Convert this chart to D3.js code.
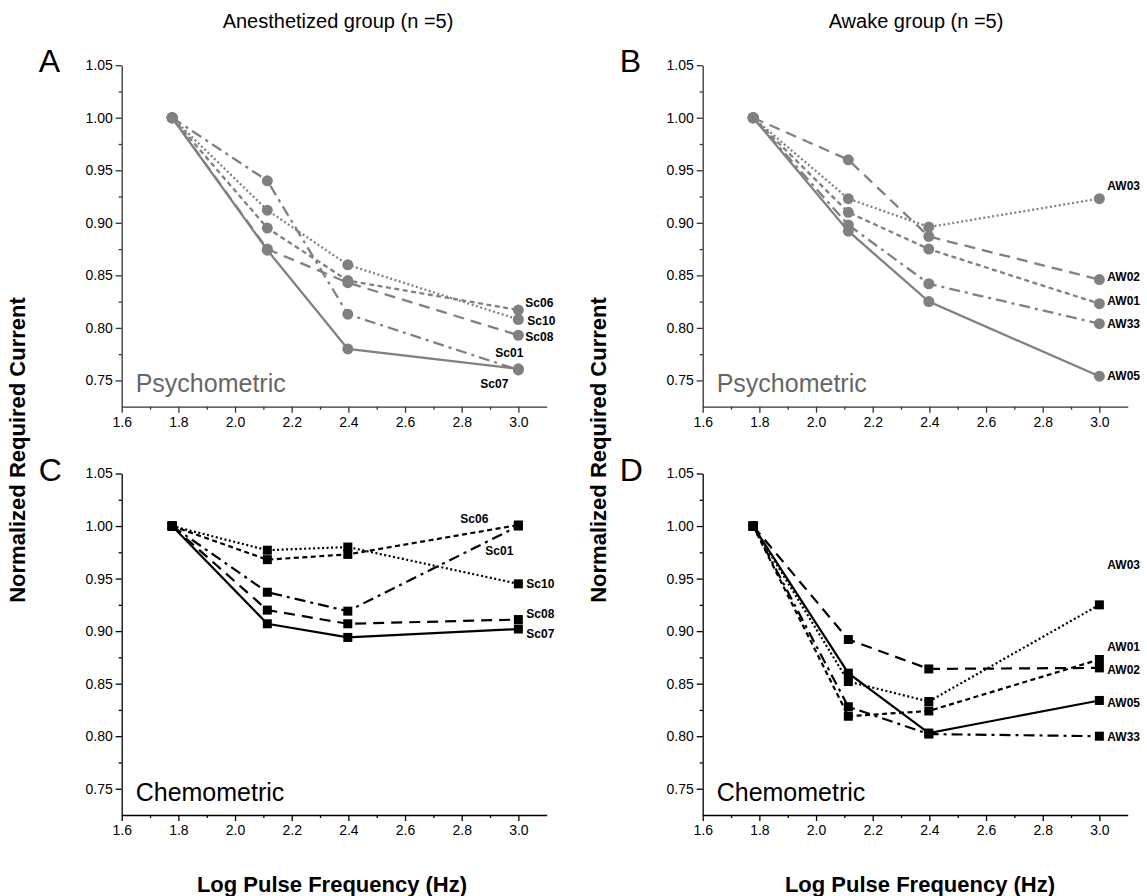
<!DOCTYPE html>
<html lang="en">
<head>
<meta charset="UTF-8">
<title>Normalized required current</title>
<script src="https://d3js.org/d3.v7.min.js"></script>
<style>
  body { margin: 0; background: #fff; }
  text { font-family: "Liberation Sans", Arial, sans-serif; }
  .lbl { font-size: 12px; font-weight: bold; }
  .ttl { font-size: 22px; font-weight: bold; }
</style>
</head>
<body>
<svg id="svg" width="1147" height="896"></svg>
<script>
// log10 of 60, 130, 250, 1000 Hz
var logFreq = [1.778, 2.114, 2.398, 3.0]

var xTicks = [1.6, 1.8, 2.0, 2.2, 2.4, 2.6, 2.8, 3.0]
var yTicks = [0.75, 0.80, 0.85, 0.90, 0.95, 1.00, 1.05]

// series order: solid, dash-dot, short dash, dotted, long dash
var anesIds = ['Sc07', 'Sc01', 'Sc06', 'Sc10', 'Sc08']
var awakeIds = ['AW05', 'AW33', 'AW01', 'AW03', 'AW02']

var psychAnes = [
  [1, 0.874, 0.780, 0.761],
  [1, 0.940, 0.813, 0.760],
  [1, 0.895, 0.845, 0.817],
  [1, 0.912, 0.860, 0.808],
  [1, 0.875, 0.843, 0.793]
]
var psychAwake = [
  [1, 0.892, 0.825, 0.754],
  [1, 0.898, 0.842, 0.804],
  [1, 0.910, 0.875, 0.823],
  [1, 0.923, 0.896, 0.923],
  [1, 0.960, 0.887, 0.846]
]
var chemoAnes = [
  [1, 0.907, 0.894, 0.902],
  [1, 0.937, 0.919, 1.000],
  [1, 0.968, 0.973, 1.001],
  [1, 0.977, 0.980, 0.945],
  [1, 0.920, 0.907, 0.911]
]
var chemoAwake = [
  [1, 0.860, 0.803, 0.834],
  [1, 0.828, 0.802, 0.800],
  [1, 0.819, 0.824, 0.873],
  [1, 0.852, 0.833, 0.925],
  [1, 0.892, 0.864, 0.865]
]

var dashes = [null, '11,5,3,5', '5,3.5', '2,2.5', '11,7']

var svg = d3.select('#svg')

function drawPanel(cfg) {
  var x = d3.scaleLinear().domain([1.6, 3.1]).range([cfg.left, cfg.left + 425])
  var y = d3.scaleLinear().domain([0.725, 1.05]).range([cfg.top + 341.5, cfg.top])
  var g = svg.append('g')

  // axes
  g.append('g').attr('transform', 'translate(' + cfg.left + ',0)')
    .call(d3.axisLeft(y).tickValues(yTicks).tickSize(6).tickSizeOuter(0).tickPadding(3)
      .tickFormat(d3.format('.2f')))
  var yMinor = g.append('g').attr('transform', 'translate(' + cfg.left + ',0)')
    .call(d3.axisLeft(y).tickValues(d3.range(0.775, 1.04, 0.05)).tickSize(3).tickFormat(''))
  yMinor.select('.domain').remove()
  g.append('g').attr('transform', 'translate(0,' + y(0.725) + ')')
    .call(d3.axisBottom(x).tickValues(xTicks).tickSize(6).tickSizeOuter(0).tickPadding(4)
      .tickFormat(d3.format('.1f')))
  var xMinor = g.append('g').attr('transform', 'translate(0,' + y(0.725) + ')')
    .call(d3.axisBottom(x).tickValues(d3.range(1.7, 3.0, 0.2)).tickSize(3).tickFormat(''))
  xMinor.select('.domain').remove()
  g.selectAll('.domain, .tick line').attr('stroke', cfg.axisColor).attr('stroke-width', 1.3)
  g.selectAll('.tick text').attr('font-family', '"Liberation Sans", Arial, sans-serif')
    .attr('font-size', 14).attr('fill', '#000')

  var line = d3.line().x(function (d, i) { return x(logFreq[i]) }).y(function (d) { return y(d) })

  cfg.data.forEach(function (s, k) {
    g.append('path').datum(s)
      .attr('d', line)
      .attr('fill', 'none')
      .attr('stroke', cfg.color)
      .attr('stroke-width', cfg.lw)
      .attr('stroke-dasharray', dashes[k])
  })
  cfg.data.forEach(function (s, k) {
    if (cfg.marker === 'circle') {
      g.selectAll(null).data(s).enter().append('circle')
        .attr('cx', function (d, i) { return x(logFreq[i]) })
        .attr('cy', function (d) { return y(d) })
        .attr('r', 5.5)
        .attr('fill', cfg.color)
    } else {
      g.selectAll(null).data(s).enter().append('rect')
        .attr('x', function (d, i) { return x(logFreq[i]) - 4.5 })
        .attr('y', function (d) { return y(d) - 4.5 })
        .attr('width', 9).attr('height', 9)
        .attr('fill', cfg.color)
    }
    var off = cfg.offsets[k]
    g.append('text').attr('class', 'lbl')
      .attr('x', x(logFreq[3]) + off[0])
      .attr('y', y(s[3]) + off[1])
      .attr('dy', '0.35em')
      .text(cfg.ids[k])
  })

  g.append('text')
    .attr('x', cfg.left + 14).attr('y', cfg.top + 327)
    .attr('font-size', 25).attr('fill', cfg.textColor)
    .text(cfg.name)
  g.append('text')
    .attr('x', cfg.left - 83).attr('y', cfg.top + 7)
    .attr('font-size', 32)
    .text(cfg.letter)
}

drawPanel({ letter: 'A', left: 121.7, top: 65.2, data: psychAnes, ids: anesIds, lw: 2.3,
  color: '#808080', axisColor: '#333', textColor: '#666', marker: 'circle', name: 'Psychometric',
  offsets: [[-38, 15], [-23, -17], [7, -7], [9, 1], [7, 2]] })
drawPanel({ letter: 'B', left: 702.7, top: 65.2, data: psychAwake, ids: awakeIds, lw: 2.3,
  color: '#808080', axisColor: '#333', textColor: '#666', marker: 'circle', name: 'Psychometric',
  offsets: [[8, 0], [8, 0], [8, -3], [8, -13], [8, -3]] })
drawPanel({ letter: 'C', left: 121.7, top: 473.5, data: chemoAnes, ids: anesIds, lw: 2.2,
  color: '#000', axisColor: '#000', textColor: '#000', marker: 'square', name: 'Chemometric',
  offsets: [[8, 5], [-33, 25], [-58, -6], [8, 0], [8, -6]] })
drawPanel({ letter: 'D', left: 702.7, top: 473.5, data: chemoAwake, ids: awakeIds, lw: 2.2,
  color: '#000', axisColor: '#000', textColor: '#000', marker: 'square', name: 'Chemometric',
  offsets: [[8, 2], [8, 1], [8, -13], [8, -40], [8, 2]] })

// group titles and axis titles
svg.append('text').attr('x', 338).attr('y', 28).attr('text-anchor', 'middle')
  .attr('font-size', 20).text('Anesthetized group (n =5)')
svg.append('text').attr('x', 916).attr('y', 28).attr('text-anchor', 'middle')
  .attr('font-size', 20).text('Awake group (n =5)')

;[332, 920].forEach(function (cx) {
  svg.append('text').attr('class', 'ttl').attr('x', cx).attr('y', 892)
    .attr('text-anchor', 'middle').text('Log Pulse Frequency (Hz)')
})
;[25, 606].forEach(function (cx) {
  svg.append('text').attr('class', 'ttl')
    .attr('transform', 'translate(' + cx + ',450) rotate(-90)')
    .attr('text-anchor', 'middle').text('Normalized Required Current')
})
</script>
</body>
</html>
